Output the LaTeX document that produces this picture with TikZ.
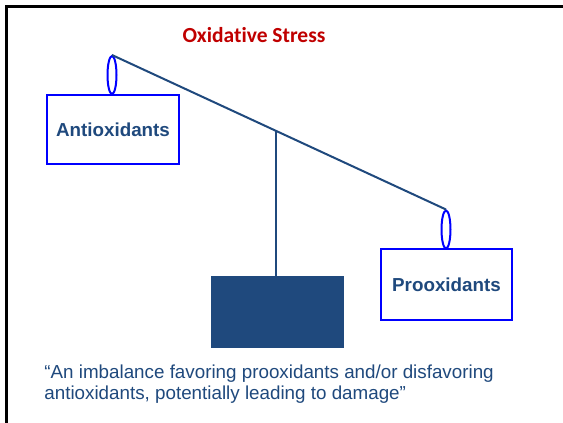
\documentclass[tikz,border=0pt]{standalone}
\usepackage{fontspec}
\setmainfont{Liberation Sans}
\newfontfamily\titlefont[Ligatures={NoCommon, NoDiscretionary, NoContextual}]{Carlito}
\usetikzlibrary{shapes.geometric, positioning}
\definecolor{navy}{HTML}{1F497D}
\definecolor{titlered}{HTML}{C00000}

\begin{document}
\begin{tikzpicture}[x=1pt, y=-1pt, thick,
  pan/.style = {draw=blue, line width=2pt, minimum width=132pt, minimum height=69pt, font=\fontsize{18.8}{22}\selectfont\bfseries, text=navy},
  hook/.style = {draw=blue, line width=2pt, ellipse, inner sep=0pt, minimum width=9pt, minimum height=38pt}]
\useasboundingbox (0,0) rectangle (563,423);
\fill[white] (0,0) rectangle (563,423);
\draw[line width=3pt] (563,6) -- (6,6) -- (6,423);

\node[text=titlered, font=\titlefont\fontsize{21.5}{24}\selectfont\bfseries] (title) at (254,35) {Oxidative Stress};

\node[hook] (lhook) at (112,75) {};
\node[pan, anchor=north] (anti) at (113,94) {Antioxidants};
\node[hook] (rhook) at (446,229.5) {};
\node[pan, anchor=north, minimum width=131pt, minimum height=71pt] (pro) at (446.5,248) {Prooxidants};

\draw[navy, line width=2pt] (lhook.north) -- coordinate[pos=0.49] (pivot) (rhook.north);
\node[fill=navy, minimum width=133pt, minimum height=72pt, anchor=north] (weight) at (277.5,276) {};
\draw[navy, line width=2pt] (pivot) -- (pivot |- weight.north);

\node[anchor=north west, align=left, text=navy, font=\fontsize{18.8}{21.7}\selectfont, inner sep=0pt] (quote) at (44,364)
  {``An imbalance favoring prooxidants and/or disfavoring\\antioxidants, potentially leading to damage''};
\end{tikzpicture}
\end{document}
